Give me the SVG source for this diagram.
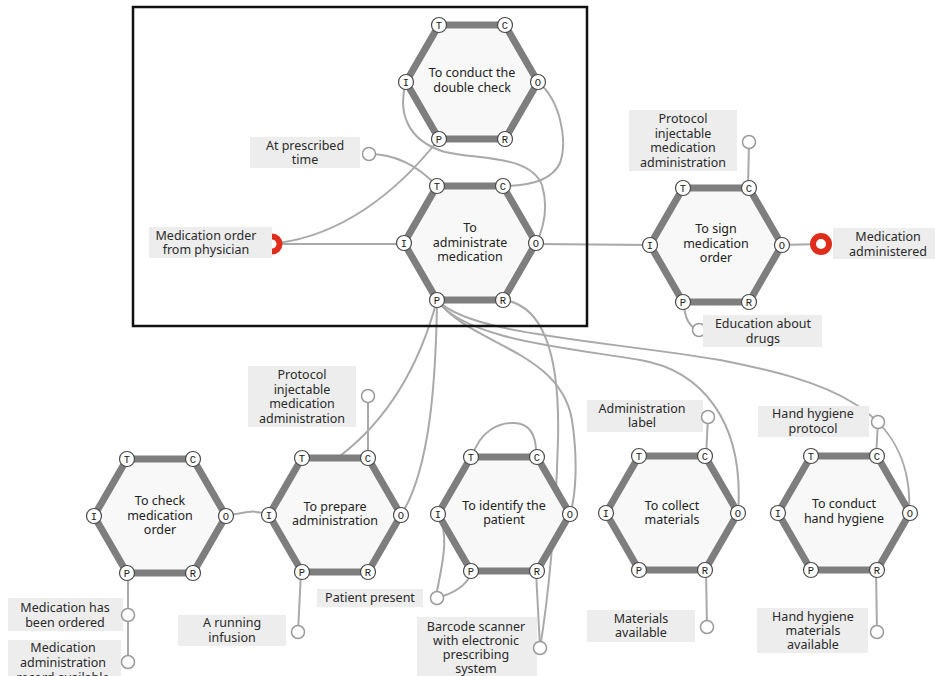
<svg xmlns="http://www.w3.org/2000/svg" width="935" height="676" viewBox="0 0 935 676">
  <style>
    .bg { fill: #ffffff; }
    .frame { fill: none; stroke: #111111; stroke-width: 2.5; }
    .wire { fill: none; stroke: #a9a9a9; stroke-width: 2; stroke-linecap: round; }
    .hex { fill: #f8f8f8; stroke: #7e7e7e; stroke-width: 7; stroke-linejoin: miter; }
    .port { fill: #ffffff; stroke: #4a4a4a; stroke-width: 1.2; }
    .pl { font-family: "Liberation Mono", "DejaVu Sans Mono", monospace; font-size: 10.5px; fill: #222; text-anchor: middle; }
    .ht { font-family: "Noto Sans", "Open Sans", "Liberation Sans", sans-serif; font-size: 12.5px; fill: #222; text-anchor: middle; }
    .box { fill: #ededed; }
    .lt { font-family: "Noto Sans", "Open Sans", "Liberation Sans", sans-serif; font-size: 12.5px; fill: #2a2a2a; text-anchor: middle; }
    .term { fill: #ffffff; stroke: #9a9a9a; stroke-width: 1.5; }
    .ring { fill: #ffffff; stroke: #e02d1b; stroke-width: 6; }
  </style>
  <defs>
    <polygon id="hexShape" points="-33,-57 33,-57 66,0 33,57 -33,57 -66,0"/>
  </defs>

  <rect class="bg" x="0" y="0" width="935" height="676"/>

  <!-- connectors -->
  <g id="connectors">
    <path class="wire" d="M369,154 C395,154 418,166 437,186"/>
    <path class="wire" d="M272,244 L404,244"/>
    <path class="wire" d="M278,243 C340,235 395,195 439,139"/>
    <path class="wire" d="M406,82 C398,110 405,140 445,152 C480,160 530,155 542,185 C548,205 545,225 536,244"/>
    <path class="wire" d="M538,82 C560,100 568,140 560,163 C552,180 530,186 503,186"/>
    <path class="wire" d="M536,244 L650,245"/>
    <path class="wire" d="M748,188 L749,142"/>
    <path class="wire" d="M782,245 L821,244"/>
    <path class="wire" d="M684,302 C684,318 690,328 699,330"/>
    <path class="wire" d="M437,300 C425,345 400,410 340,456 L302,458"/>
    <path class="wire" d="M437,300 C436,380 430,470 401,515"/>
    <path class="wire" d="M437,300 C470,345 560,350 572,420 C578,460 576,495 570,514"/>
    <path class="wire" d="M503,300 C545,305 560,360 558,440 C556,520 548,600 540,648"/>
    <path class="wire" d="M437,300 C465,340 570,348 640,360 C700,370 745,420 738,513"/>
    <path class="wire" d="M437,300 C470,335 600,340 720,360 C820,380 915,405 909,513"/>
    <path class="wire" d="M472,457 C480,430 500,422 515,423 C530,424 537,435 536,457"/>
    <path class="wire" d="M437,591 C442,565 450,535 438,514"/>
    <path class="wire" d="M443,596 C455,592 468,585 472,571"/>
    <path class="wire" d="M536,571 L540,648"/>
    <path class="wire" d="M128,573 L128,662"/>
    <path class="wire" d="M226,516 C245,512 255,509 269,515"/>
    <path class="wire" d="M368,458 L368,396"/>
    <path class="wire" d="M301,572 L298,632"/>
    <path class="wire" d="M706,457 L708,417"/>
    <path class="wire" d="M706,570 L707,627"/>
    <path class="wire" d="M876,457 L878,422"/>
    <path class="wire" d="M876,570 L877,632"/>
  </g>

  <!-- sub-process frame -->
  <rect class="frame" x="133" y="7" width="454" height="319"/>

  <!-- activity nodes -->
  <g id="node-double-check" transform="translate(472,82)">
    <use href="#hexShape" class="hex"/>
    <text class="ht" x="0" y="-5">To conduct the</text>
    <text class="ht" x="0" y="10">double check</text>
    <circle class="port" cx="-33" cy="-57" r="7.5"/><text class="pl" x="-33" y="-53.5">T</text>
    <circle class="port" cx="33" cy="-57" r="7.5"/><text class="pl" x="33" y="-53.5">C</text>
    <circle class="port" cx="66" cy="0" r="7.5"/><text class="pl" x="66" y="3.5">O</text>
    <circle class="port" cx="33" cy="57" r="7.5"/><text class="pl" x="33" y="60.5">R</text>
    <circle class="port" cx="-33" cy="57" r="7.5"/><text class="pl" x="-33" y="60.5">P</text>
    <circle class="port" cx="-66" cy="0" r="7.5"/><text class="pl" x="-66" y="3.5">I</text>
  </g>

  <g id="node-administrate" transform="translate(470,243)">
    <use href="#hexShape" class="hex"/>
    <text class="ht" x="0" y="-11">To</text>
    <text class="ht" x="0" y="4">administrate</text>
    <text class="ht" x="0" y="18">medication</text>
    <circle class="port" cx="-33" cy="-57" r="7.5"/><text class="pl" x="-33" y="-53.5">T</text>
    <circle class="port" cx="33" cy="-57" r="7.5"/><text class="pl" x="33" y="-53.5">C</text>
    <circle class="port" cx="66" cy="0" r="7.5"/><text class="pl" x="66" y="3.5">O</text>
    <circle class="port" cx="33" cy="57" r="7.5"/><text class="pl" x="33" y="60.5">R</text>
    <circle class="port" cx="-33" cy="57" r="7.5"/><text class="pl" x="-33" y="60.5">P</text>
    <circle class="port" cx="-66" cy="0" r="7.5"/><text class="pl" x="-66" y="3.5">I</text>
  </g>

  <g id="node-sign-order" transform="translate(716,245)">
    <use href="#hexShape" class="hex"/>
    <text class="ht" x="0" y="-12">To sign</text>
    <text class="ht" x="0" y="3">medication</text>
    <text class="ht" x="0" y="17">order</text>
    <circle class="port" cx="-33" cy="-57" r="7.5"/><text class="pl" x="-33" y="-53.5">T</text>
    <circle class="port" cx="33" cy="-57" r="7.5"/><text class="pl" x="33" y="-53.5">C</text>
    <circle class="port" cx="66" cy="0" r="7.5"/><text class="pl" x="66" y="3.5">O</text>
    <circle class="port" cx="33" cy="57" r="7.5"/><text class="pl" x="33" y="60.5">R</text>
    <circle class="port" cx="-33" cy="57" r="7.5"/><text class="pl" x="-33" y="60.5">P</text>
    <circle class="port" cx="-66" cy="0" r="7.5"/><text class="pl" x="-66" y="3.5">I</text>
  </g>

  <g id="node-check-order" transform="translate(160,516)">
    <use href="#hexShape" class="hex"/>
    <text class="ht" x="0" y="-11">To check</text>
    <text class="ht" x="0" y="4">medication</text>
    <text class="ht" x="0" y="18">order</text>
    <circle class="port" cx="-33" cy="-57" r="7.5"/><text class="pl" x="-33" y="-53.5">T</text>
    <circle class="port" cx="33" cy="-57" r="7.5"/><text class="pl" x="33" y="-53.5">C</text>
    <circle class="port" cx="66" cy="0" r="7.5"/><text class="pl" x="66" y="3.5">O</text>
    <circle class="port" cx="33" cy="57" r="7.5"/><text class="pl" x="33" y="60.5">R</text>
    <circle class="port" cx="-33" cy="57" r="7.5"/><text class="pl" x="-33" y="60.5">P</text>
    <circle class="port" cx="-66" cy="0" r="7.5"/><text class="pl" x="-66" y="3.5">I</text>
  </g>

  <g id="node-prepare" transform="translate(335,515)">
    <use href="#hexShape" class="hex"/>
    <text class="ht" x="0" y="-4">To prepare</text>
    <text class="ht" x="0" y="10">administration</text>
    <circle class="port" cx="-33" cy="-57" r="7.5"/><text class="pl" x="-33" y="-53.5">T</text>
    <circle class="port" cx="33" cy="-57" r="7.5"/><text class="pl" x="33" y="-53.5">C</text>
    <circle class="port" cx="66" cy="0" r="7.5"/><text class="pl" x="66" y="3.5">O</text>
    <circle class="port" cx="33" cy="57" r="7.5"/><text class="pl" x="33" y="60.5">R</text>
    <circle class="port" cx="-33" cy="57" r="7.5"/><text class="pl" x="-33" y="60.5">P</text>
    <circle class="port" cx="-66" cy="0" r="7.5"/><text class="pl" x="-66" y="3.5">I</text>
  </g>

  <g id="node-identify" transform="translate(504,514)">
    <use href="#hexShape" class="hex"/>
    <text class="ht" x="0" y="-4">To identify the</text>
    <text class="ht" x="0" y="10">patient</text>
    <circle class="port" cx="-33" cy="-57" r="7.5"/><text class="pl" x="-33" y="-53.5">T</text>
    <circle class="port" cx="33" cy="-57" r="7.5"/><text class="pl" x="33" y="-53.5">C</text>
    <circle class="port" cx="66" cy="0" r="7.5"/><text class="pl" x="66" y="3.5">O</text>
    <circle class="port" cx="33" cy="57" r="7.5"/><text class="pl" x="33" y="60.5">R</text>
    <circle class="port" cx="-33" cy="57" r="7.5"/><text class="pl" x="-33" y="60.5">P</text>
    <circle class="port" cx="-66" cy="0" r="7.5"/><text class="pl" x="-66" y="3.5">I</text>
  </g>

  <g id="node-collect" transform="translate(672,513)">
    <use href="#hexShape" class="hex"/>
    <text class="ht" x="0" y="-3">To collect</text>
    <text class="ht" x="0" y="11">materials</text>
    <circle class="port" cx="-33" cy="-57" r="7.5"/><text class="pl" x="-33" y="-53.5">T</text>
    <circle class="port" cx="33" cy="-57" r="7.5"/><text class="pl" x="33" y="-53.5">C</text>
    <circle class="port" cx="66" cy="0" r="7.5"/><text class="pl" x="66" y="3.5">O</text>
    <circle class="port" cx="33" cy="57" r="7.5"/><text class="pl" x="33" y="60.5">R</text>
    <circle class="port" cx="-33" cy="57" r="7.5"/><text class="pl" x="-33" y="60.5">P</text>
    <circle class="port" cx="-66" cy="0" r="7.5"/><text class="pl" x="-66" y="3.5">I</text>
  </g>

  <g id="node-hand-hygiene" transform="translate(844,513)">
    <use href="#hexShape" class="hex"/>
    <text class="ht" x="0" y="-5">To conduct</text>
    <text class="ht" x="0" y="10">hand hygiene</text>
    <circle class="port" cx="-33" cy="-57" r="7.5"/><text class="pl" x="-33" y="-53.5">T</text>
    <circle class="port" cx="33" cy="-57" r="7.5"/><text class="pl" x="33" y="-53.5">C</text>
    <circle class="port" cx="66" cy="0" r="7.5"/><text class="pl" x="66" y="3.5">O</text>
    <circle class="port" cx="33" cy="57" r="7.5"/><text class="pl" x="33" y="60.5">R</text>
    <circle class="port" cx="-33" cy="57" r="7.5"/><text class="pl" x="-33" y="60.5">P</text>
    <circle class="port" cx="-66" cy="0" r="7.5"/><text class="pl" x="-66" y="3.5">I</text>
  </g>

  <!-- start / end markers -->
  <g id="start-order">
    <circle class="ring" cx="272" cy="244" r="7.5"/>
    <rect class="box" x="149" y="227" width="123" height="31"/>
    <text class="lt" x="206" y="240">Medication order</text>
    <text class="lt" x="206" y="254">from physician</text>
  </g>
  <g id="end-administered">
    <circle class="ring" cx="821" cy="244" r="8"/>
    <rect class="box" x="833" y="228" width="102" height="31"/>
    <text class="lt" x="888" y="241">Medication</text>
    <text class="lt" x="888" y="256">administered</text>
  </g>

  <!-- conditions and resources -->
  <g id="res-prescribed-time">
    <rect class="box" x="250" y="137" width="110" height="31"/>
    <text class="lt" x="305" y="150">At prescribed</text>
    <text class="lt" x="305" y="164">time</text>
    <circle class="term" cx="369" cy="154" r="6.5"/>
  </g>
  <g id="res-protocol-sign">
    <rect class="box" x="629" y="110" width="108" height="61"/>
    <text class="lt" x="683" y="123">Protocol</text>
    <text class="lt" x="683" y="137.5">injectable</text>
    <text class="lt" x="683" y="152">medication</text>
    <text class="lt" x="683" y="166.5">administration</text>
    <circle class="term" cx="749" cy="142" r="6.5"/>
  </g>
  <g id="res-education">
    <circle class="term" cx="699" cy="330" r="6.5"/>
    <rect class="box" x="703" y="315" width="119" height="32"/>
    <text class="lt" x="763" y="328">Education about</text>
    <text class="lt" x="763" y="343">drugs</text>
  </g>
  <g id="res-protocol-prepare">
    <rect class="box" x="248" y="366" width="108" height="61"/>
    <text class="lt" x="302" y="379">Protocol</text>
    <text class="lt" x="302" y="393.5">injectable</text>
    <text class="lt" x="302" y="408">medication</text>
    <text class="lt" x="302" y="422.5">administration</text>
    <circle class="term" cx="368" cy="396" r="6.5"/>
  </g>
  <g id="res-ordered">
    <rect class="box" x="8" y="598" width="115" height="33"/>
    <text class="lt" x="65" y="612">Medication has</text>
    <text class="lt" x="65" y="627">been ordered</text>
    <circle class="term" cx="128" cy="615" r="6.5"/>
  </g>
  <g id="res-record">
    <rect class="box" x="8" y="640" width="113" height="40"/>
    <text class="lt" x="63" y="652">Medication</text>
    <text class="lt" x="63" y="667">administration</text>
    <text class="lt" x="63" y="682">record available</text>
    <circle class="term" cx="128" cy="662" r="6.5"/>
  </g>
  <g id="res-infusion">
    <rect class="box" x="178" y="615" width="108" height="31"/>
    <text class="lt" x="232" y="627">A running</text>
    <text class="lt" x="232" y="642">infusion</text>
    <circle class="term" cx="298" cy="632" r="6.5"/>
  </g>
  <g id="res-patient-present">
    <rect class="box" x="317" y="589" width="106" height="18"/>
    <text class="lt" x="370" y="602">Patient present</text>
    <circle class="term" cx="437" cy="598" r="6.5"/>
  </g>
  <g id="res-barcode">
    <rect class="box" x="417" y="617" width="120" height="62"/>
    <text class="lt" x="476" y="631">Barcode scanner</text>
    <text class="lt" x="476" y="645">with electronic</text>
    <text class="lt" x="476" y="659">prescribing</text>
    <text class="lt" x="476" y="673">system</text>
    <circle class="term" cx="540" cy="648" r="6.5"/>
  </g>
  <g id="res-admin-label">
    <rect class="box" x="587" y="400" width="116" height="32"/>
    <text class="lt" x="642" y="413">Administration</text>
    <text class="lt" x="642" y="427">label</text>
    <circle class="term" cx="708" cy="417" r="6.5"/>
  </g>
  <g id="res-materials">
    <rect class="box" x="587" y="610" width="108" height="32"/>
    <text class="lt" x="641" y="623">Materials</text>
    <text class="lt" x="641" y="637">available</text>
    <circle class="term" cx="707" cy="627" r="6.5"/>
  </g>
  <g id="res-hygiene-protocol">
    <rect class="box" x="758" y="406" width="111" height="31"/>
    <text class="lt" x="813" y="418">Hand hygiene</text>
    <text class="lt" x="813" y="433">protocol</text>
    <circle class="term" cx="878" cy="422" r="6.5"/>
  </g>
  <g id="res-hygiene-materials">
    <rect class="box" x="757" y="608" width="111" height="45"/>
    <text class="lt" x="813" y="621">Hand hygiene</text>
    <text class="lt" x="813" y="635">materials</text>
    <text class="lt" x="813" y="649">available</text>
    <circle class="term" cx="877" cy="632" r="6.5"/>
  </g>
</svg>
